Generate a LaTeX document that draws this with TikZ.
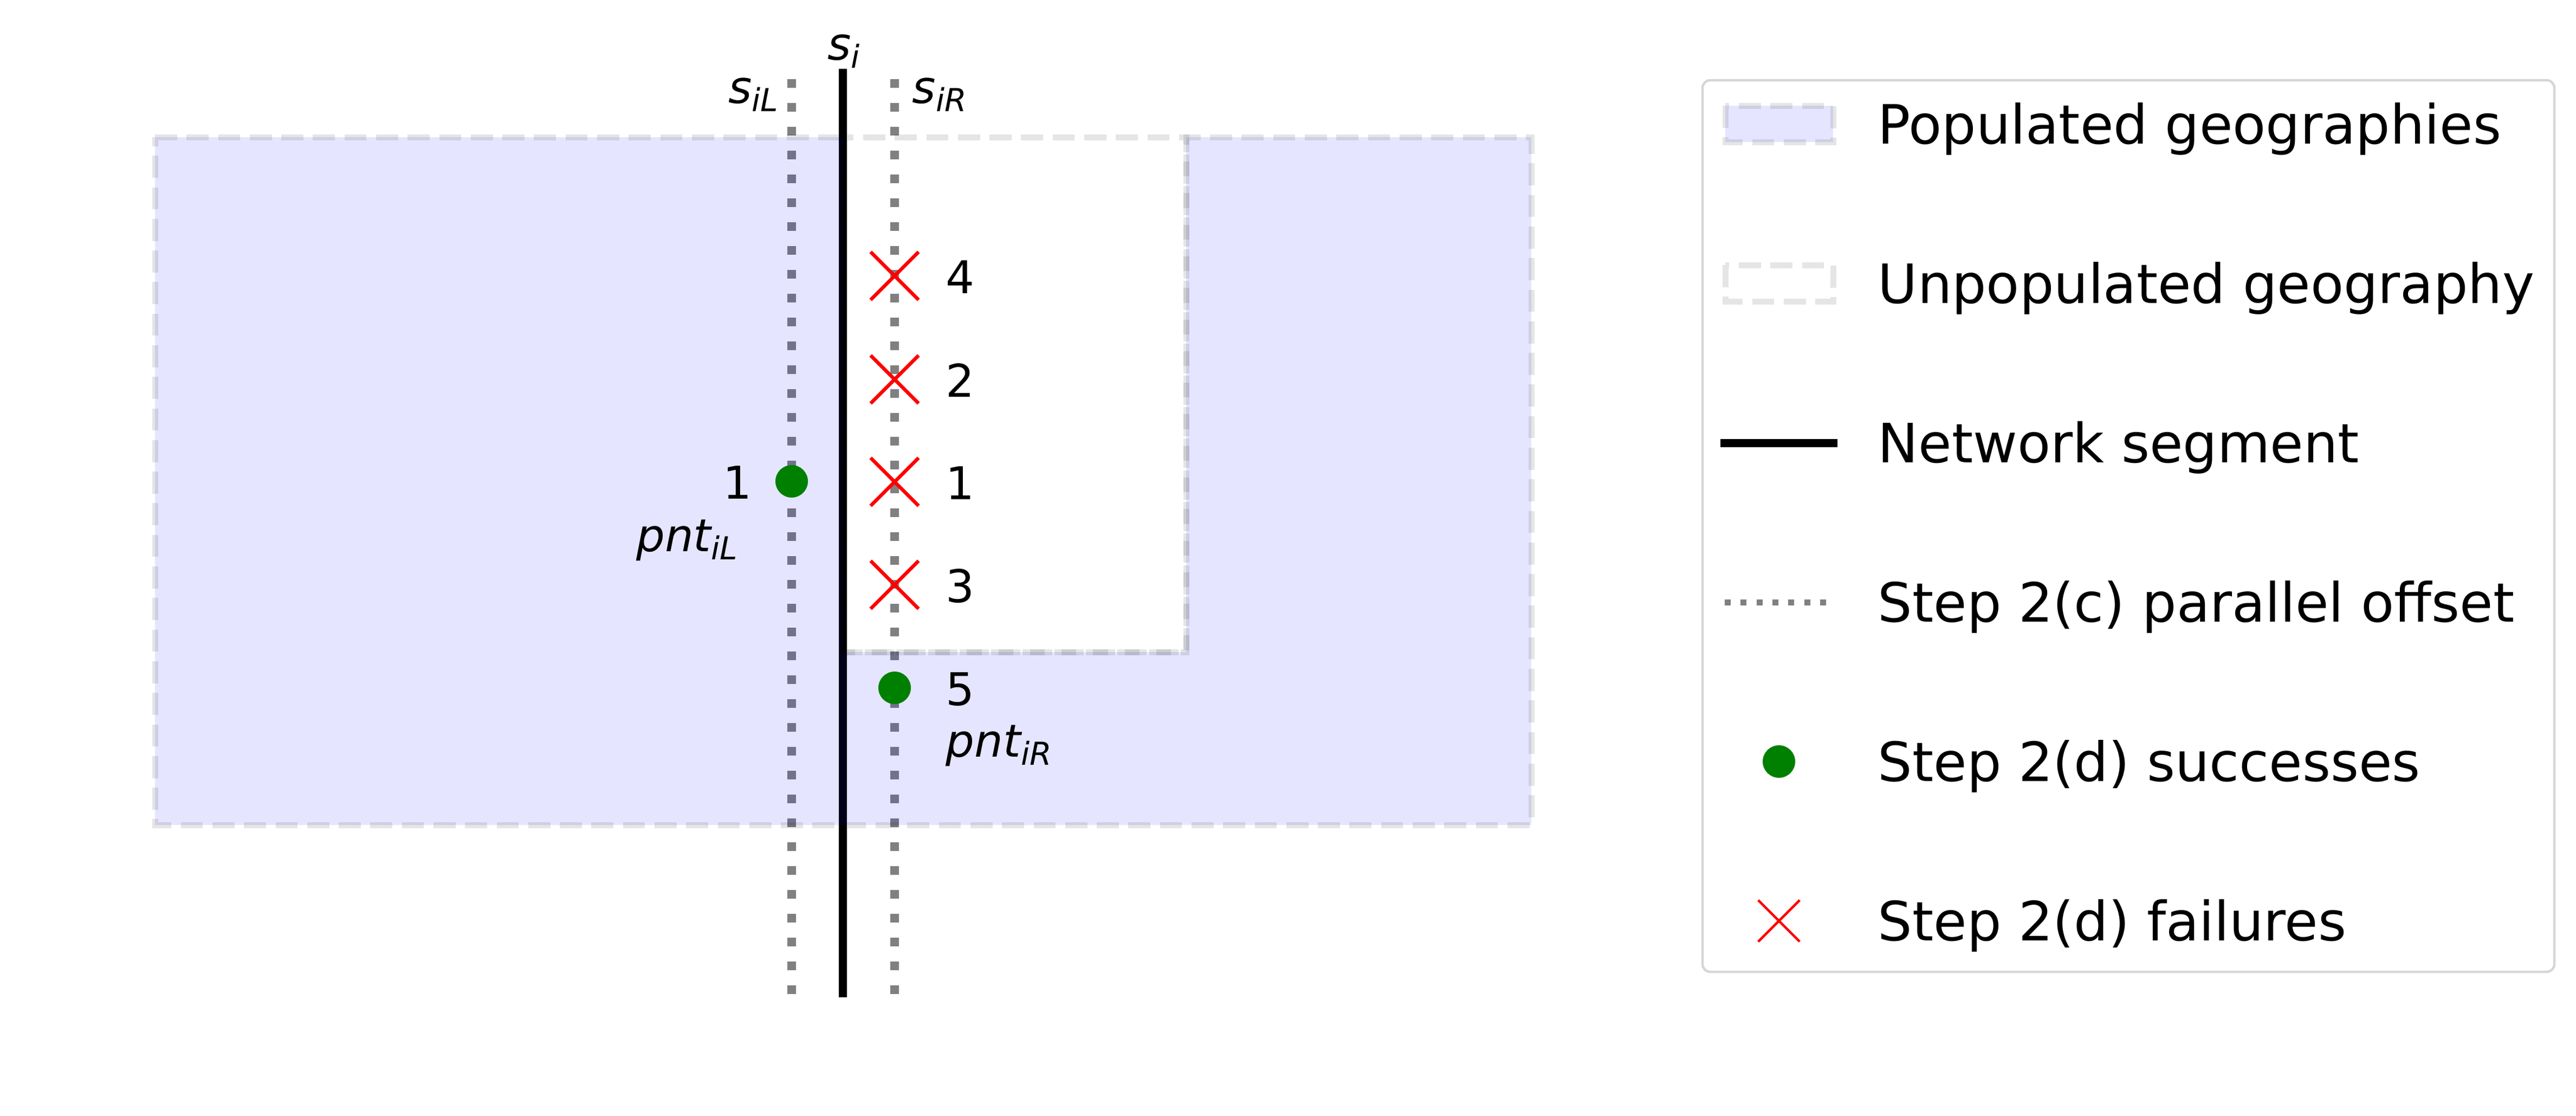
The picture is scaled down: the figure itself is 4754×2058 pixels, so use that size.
\documentclass[tikz,border=0pt]{standalone}
\usepackage{fontspec}
\setmainfont{DejaVu Sans}
\usetikzlibrary{shapes.misc}
\newcommand{\lsub}[1]{\raisebox{-0.18em}{\fontsize{14}{14}\selectfont #1}}

\begin{document}
\begin{tikzpicture}[x=0.24pt, y=-0.24pt,
    populated/.style={fill=blue, fill opacity=0.1, draw=black, draw opacity=0.1, line width=2.64pt, dash pattern=on 9.77pt off 4.22pt},
    unpopulated/.style={draw=black, draw opacity=0.1, line width=2.64pt, dash pattern=on 9.77pt off 4.22pt},
    segment/.style={draw=black, line width=3.6pt},
    offset/.style={draw=gray, line width=3.84pt, dash pattern=on 3.84pt off 6.72pt},
    success/.style={circle, fill={rgb,255:red,0;green,128;blue,0}, inner sep=0pt, minimum size=14.4pt},
    failure/.style={cross out, draw=red, inner sep=0pt, minimum size=19.7pt, line width=1.56pt},
    lbl/.style={inner sep=0pt, font=\fontsize{20}{24}\selectfont},
    legtext/.style={inner sep=0pt, font=\fontsize{24}{29}\selectfont}]
    \useasboundingbox (0,0) rectangle (4754,2058);
    % Offset lines and network segment
    \coordinate (siTop) at (1555,127);
    \coordinate (siBot) at (1555,1840);
    \coordinate (siLTop) at (1461,146);
    \coordinate (siLBot) at (1461,1840);
    \coordinate (siRTop) at (1651,146);
    \coordinate (siRBot) at (1651,1840);
    \draw[offset] (siLTop) -- (siLBot);
    \draw[offset] (siRTop) -- (siRBot);
    \draw[segment] (siTop) -- (siBot);
    \node[lbl, anchor=base] (si) at (1557,110) {\itshape s\lsub{i}};
    \node[lbl, anchor=base east] (siL) at (1437,190) {\itshape s\lsub{iL}};
    \node[lbl, anchor=base west] (siR) at (1683,190) {\itshape s\lsub{iR}};
    % Geographies
    \path[populated] (286,253) -- (1555,253) -- (1555,1203) -- (2189,1203) -- (2189,253)
        -- (2826,253) -- (2826,1522) -- (286,1522) -- cycle;
    \path[unpopulated] (1555,253) rectangle (2189,1203);
    % Failures
    \foreach \y/\n in {509/4, 700/2, 889/1, 1079/3}
    {
    \node[failure] (fail\n) at (1651,\y) {};
    \node[lbl, anchor=base west] (flab\n) at (1745,\y+32) {\n};
    }
    % Successes
    \node[success] (pntL) at (1461,888) {};
    \node[lbl, anchor=base east] (pntLnum) at (1388,920) {1};
    \node[lbl, anchor=base east] (pntLlab) at (1362,1017) {\itshape pnt\lsub{iL}};
    \node[success] (pntR) at (1651,1269) {};
    \node[lbl, anchor=base west] (pntRnum) at (1745,1301) {5};
    \node[lbl, anchor=base west] (pntRlab) at (1745,1396) {\itshape pnt\lsub{iR}};
    % Legend
    \draw[draw={rgb,255:red,214;green,214;blue,214}, line width=1.08pt, rounded corners=3.4pt] (3142,148) rectangle (4714,1793);
    \path[populated] (3184,195) rectangle (3383,262);
    \path[unpopulated] (3184,489) rectangle (3383,556);
    \draw[segment] (3175,817) -- (3391,817);
    \draw[offset, line width=2.64pt, dash pattern=on 2.64pt off 4.39pt] (3183,1111) -- (3385,1111);
    \node[success] (legdot) at (3283,1405) {};
    \node[failure, minimum size=17.3pt, line width=1.08pt] (legcross) at (3283,1699) {};
    \foreach \k/\txt in {0/Populated geographies, 1/Unpopulated geography, 2/Network segment,
        3/Step 2(c) parallel offset, 4/Step 2(d) successes, 5/Step 2(d) failures}
    \node[legtext, anchor=base west] (leg\k) at (3465,265+294*\k) {\txt};
\end{tikzpicture}
\end{document}
